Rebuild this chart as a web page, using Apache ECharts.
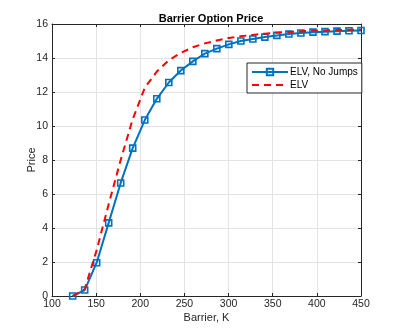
<!DOCTYPE html>
<html>
<head>
<meta charset="utf-8">
<script src="https://cdn.jsdelivr.net/npm/echarts@6/dist/echarts.min.js"></script>
<style>
  html, body { margin: 0; padding: 0; background: #fff; }
  #chart { width: 399px; height: 332px; }
</style>
</head>
<body>
<div id="chart"></div>
<script>
const barrier = [123.4, 137.0, 150.6, 164.2, 177.8, 191.4, 205.1, 218.7, 232.3, 245.9, 259.5, 273.1, 286.7,
  300.3, 313.9, 327.5, 341.1, 354.7, 368.3, 381.9, 395.6, 409.2, 422.8, 436.4, 450]
const elvNoJumps = [0.0, 0.35, 1.96, 4.3, 6.65, 8.7, 10.35, 11.6, 12.56, 13.26, 13.8, 14.26, 14.55,
  14.8, 15.0, 15.12, 15.23, 15.33, 15.41, 15.47, 15.52, 15.55, 15.58, 15.6, 15.62]
const elv = [0.0, 0.4, 2.7, 5.4, 8.0, 10.4, 12.25, 13.2, 13.87, 14.3, 14.63, 14.86, 15.03,
  15.18, 15.28, 15.36, 15.43, 15.49, 15.53, 15.57, 15.6, 15.62, 15.64, 15.66, 15.68]
const xTicks = [100, 150, 200, 250, 300, 350, 400, 450]
const yTicks = [0, 2, 4, 6, 8, 10, 12, 14, 16]

const ink = '#262626'
const font = 'Liberation Sans, Arial, sans-serif'

const chart = echarts.init(document.getElementById('chart'))

const boxAxis = {
  axisLine: { show: true, onZero: false, lineStyle: { color: ink, width: 1 } },
  axisTick: { show: true, inside: true, length: 3, lineStyle: { color: ink } },
  splitLine: { show: false }
}

chart.setOption({
  animation: false,
  backgroundColor: '#fff',
  title: {
    text: 'Barrier Option Price',
    left: 206,
    textAlign: 'center',
    top: 8,
    textStyle: { color: '#000', fontSize: 11, fontWeight: 'bold', fontFamily: font }
  },
  legend: {
    orient: 'vertical',
    left: 247,
    top: 63,
    padding: [4, 4, 3, 4],
    itemGap: 3,
    itemWidth: 36,
    itemHeight: 8,
    backgroundColor: '#fff',
    borderColor: ink,
    borderWidth: 1,
    borderRadius: 0,
    textStyle: { color: '#000', fontSize: 10, fontFamily: font, padding: [0, 0, 0, -3] },
    data: ['ELV, No Jumps', { name: 'ELV', itemStyle: { opacity: 0 } }]
  },
  grid: { left: 52, right: 38, top: 24, bottom: 36 },
  xAxis: [
    {
      type: 'value', min: 100, max: 450, interval: 50, position: 'bottom',
      name: 'Barrier, K', nameLocation: 'middle', nameGap: 16, nameMoveOverlap: false,
      nameTextStyle: { color: ink, fontSize: 11, fontFamily: font },
      ...boxAxis,
      axisLabel: { color: ink, fontSize: 10.5, fontFamily: font, margin: 3, customValues: xTicks },
      splitLine: { show: true, lineStyle: { color: '#e3e3e3', width: 1 } }
    },
    {
      type: 'value', min: 100, max: 450, interval: 50, position: 'top',
      ...boxAxis, axisLabel: { show: false }
    }
  ],
  yAxis: [
    {
      type: 'value', min: 0, max: 16, interval: 2, position: 'left',
      name: 'Price', nameLocation: 'middle', nameGap: 15, nameRotate: 90, nameMoveOverlap: false,
      nameTextStyle: { color: ink, fontSize: 11, fontFamily: font },
      ...boxAxis,
      axisLabel: { color: ink, fontSize: 10.5, fontFamily: font, margin: 4, customValues: yTicks },
      splitLine: { show: true, lineStyle: { color: '#e3e3e3', width: 1 } }
    },
    {
      type: 'value', min: 0, max: 16, interval: 2, position: 'right',
      ...boxAxis, axisLabel: { show: false }
    }
  ],
  series: [
    {
      name: 'ELV, No Jumps',
      type: 'line',
      color: '#0072BD',
      data: barrier.map((b, i) => [b, elvNoJumps[i]]),
      symbol: 'rect',
      symbolSize: 6,
      showAllSymbol: true,
      clip: false,
      lineStyle: { color: '#0072BD', width: 2 },
      itemStyle: { color: 'rgba(255,255,255,0)', borderColor: '#0072BD', borderWidth: 1.6 },
      z: 3
    },
    {
      name: 'ELV',
      type: 'line',
      color: '#FF0000',
      data: barrier.map((b, i) => [b, elv[i]]),
      symbol: 'none',
      clip: false,
      lineStyle: { color: '#FF0000', width: 2, type: [7, 5] },
      z: 4
    }
  ]
})
</script>
</body>
</html>
